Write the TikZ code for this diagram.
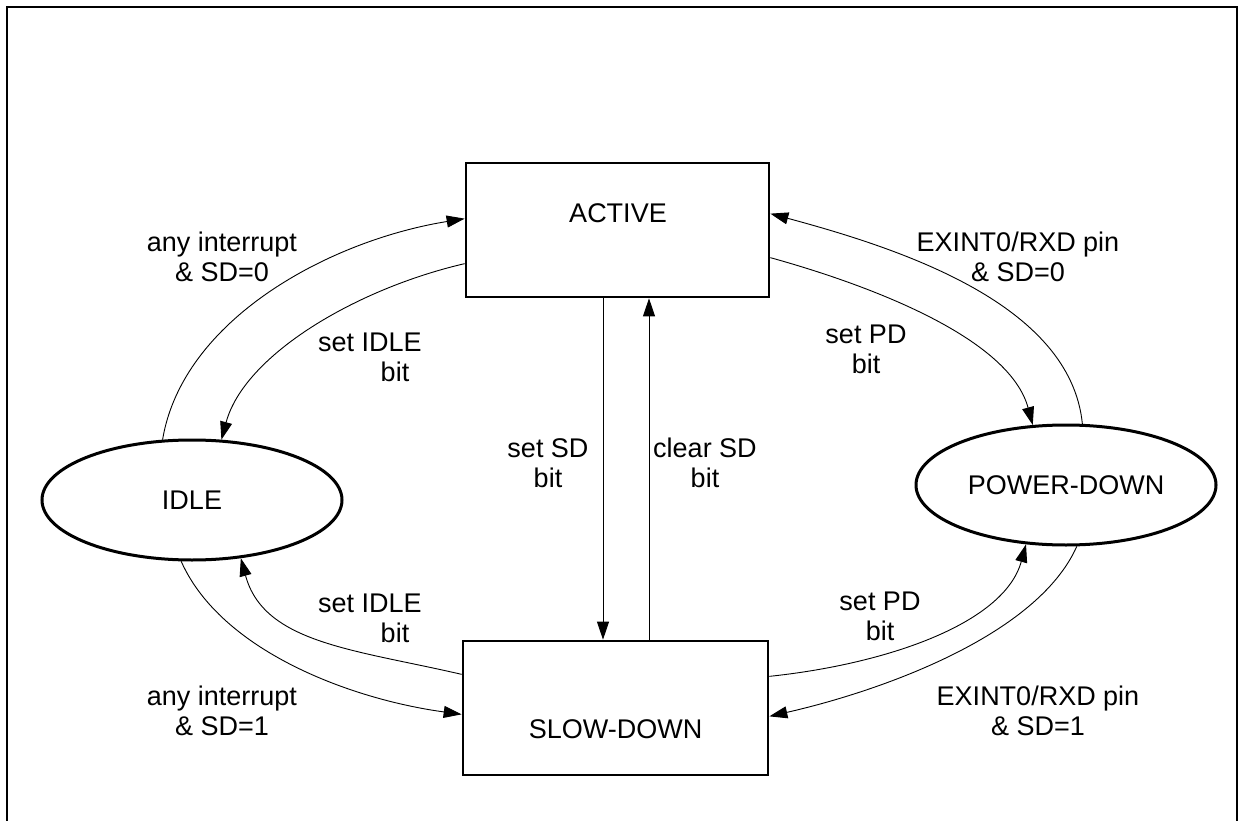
\documentclass[tikz,border=0pt]{standalone}
\usepackage{fontspec}
\setmainfont{Liberation Sans}
\usetikzlibrary{arrows.meta,shapes.geometric}
\begin{document}
\begin{tikzpicture}[x=1pt,y=-1pt,
  txt/.style={font=\fontsize{27}{30}\selectfont, align=center, inner sep=0pt},
  lbl/.style={txt, anchor=base},
  statebox/.style={draw, line width=2.7pt, minimum width=303pt, minimum height=134pt, inner sep=0pt},
  stateell/.style={draw, ellipse, line width=3pt, minimum width=300pt, minimum height=120pt, inner sep=0pt, txt},
  conn/.style={line width=0.9pt},
  arr/.style={conn, -{Triangle[length=18pt,width=12pt]}}]
\useasboundingbox (0,0) rectangle (1240,821);
\draw[line width=2pt] (7,840) -- (7,7) -- (1237,7) -- (1237,840);

\node[statebox] (act) at (617.5,230) {};
\node[txt, anchor=base] (actt) at (618,223) {ACTIVE};
\node[statebox, minimum width=305pt] (slow) at (615.5,708) {};
\node[txt, anchor=base] (slowt) at (615.5,738) {SLOW-DOWN};
\node[stateell] (idle) at (192,500) {IDLE};
\node[stateell] (pd) at (1066,485) {POWER-DOWN};

% upper left
\draw[arr] (idle.116.2) .. controls +(20,-120) and +(-136,22) .. ([yshift=-57pt]act.north west);
\draw[arr] ([yshift=-102pt]act.north west) .. controls +(-108,25) and +(23,-85) .. (idle.64.6);
% upper right
\draw[arr] (pd.75) .. controls +(-12,-120) and +(130,35) .. ([yshift=-52pt]act.north east);
\draw[arr] ([yshift=-96pt]act.north east) .. controls +(108,30) and +(-23,-85) .. (pd.119.4);
% lower left
\draw[arr] (idle.260.5) .. controls +(40,90) and +(-110,-15) .. ([yshift=62pt]slow.south west);
\draw[arr] ([yshift=102pt]slow.south west) .. controls +(-108,-25) and +(23,85) .. (idle.310.2);
% lower right
\draw[arr] ([yshift=100pt]slow.south east) .. controls +(115,-12) and +(-22,80) .. (pd.236.8);
\draw[arr] (pd.280.4) .. controls +(-40,90) and +(110,-25) .. ([yshift=60pt]slow.south east);
% vertical
\draw[arr] ([xshift=-14.5pt]act.south) -- ([xshift=-12.5pt]slow.north);
\draw[arr] ([xshift=33.5pt]slow.north) -- ([xshift=31.5pt]act.south);

% labels (base = baseline of last line)
\node[lbl] (l1) at (222,282) {any interrupt\\\& SD=0};
\node[lbl] (l2) at (370,381) {set IDLE\\\hspace*{50pt}bit};
\node[lbl] (l3) at (1018,282) {EXINT0/RXD pin\\\& SD=0};
\node[lbl] (l4) at (866,373) {set PD\\bit};
\node[lbl] (l5) at (548,487) {set SD\\bit};
\node[lbl] (l6) at (705,487) {clear SD\\bit};
\node[lbl] (l7) at (370,642) {set IDLE\\\hspace*{50pt}bit};
\node[lbl] (l8) at (880,640) {set PD\\bit};
\node[lbl] (l9) at (222,735) {any interrupt\\\& SD=1};
\node[lbl] (l10) at (1038,735) {EXINT0/RXD pin\\\& SD=1};
\end{tikzpicture}
\end{document}
